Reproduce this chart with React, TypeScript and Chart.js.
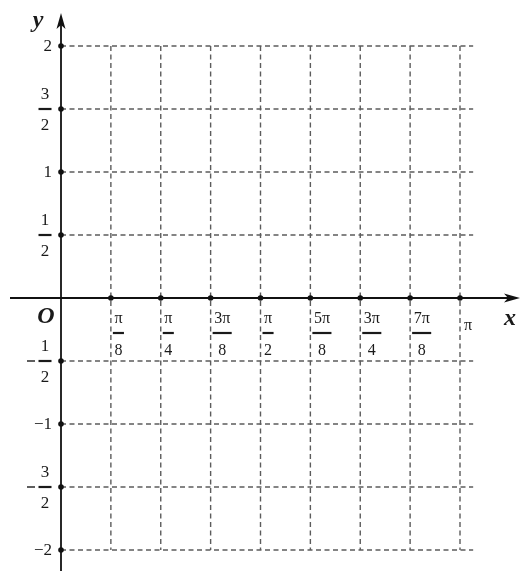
import React, { useEffect, useRef } from "react";
import { Chart, registerables } from "chart.js";

Chart.register(...registerables);

// x ticks in units of π (k/8)
const xTickValues = [0.125, 0.25, 0.375, 0.5, 0.625, 0.75, 0.875, 1];
const xTickNumerators = ["π", "π", "3π", "π", "5π", "3π", "7π", "π"];
const xTickDenominators = ["8", "4", "8", "2", "8", "4", "8", ""];
const yTickValues = [2, 1.5, 1, 0.5, -0.5, -1, -1.5, -2];
const yTickSigns = ["", "", "", "", "−", "−", "−", "−"];
const yTickNumerators = ["2", "3", "1", "1", "1", "1", "3", "2"];
const yTickDenominators = ["", "2", "", "2", "2", "", "2", ""];

const X_MIN = -61 / 399;
const X_MAX = 460 / 399;
const Y_MAX = 298 / 126;
const Y_MIN = -(571 - 298) / 126;
const GRID_X_END = 1.033;

const SERIF = '"Liberation Serif", "DejaVu Serif", serif';

const gridPlugin = {
  id: "mathGrid",
  beforeDatasetsDraw(chart: any) {
    const { ctx, scales } = chart;
    const xs = scales.x;
    const ys = scales.y;
    const px = (v: number) => xs.getPixelForValue(v);
    const py = (v: number) => ys.getPixelForValue(v);
    ctx.save();
    // dashed grid
    ctx.strokeStyle = "#5c5c5c";
    ctx.lineWidth = 1.4;
    ctx.setLineDash([5, 3.5]);
    yTickValues.forEach((v) => {
      ctx.beginPath();
      ctx.moveTo(px(0), py(v));
      ctx.lineTo(px(GRID_X_END), py(v));
      ctx.stroke();
    });
    xTickValues.forEach((v) => {
      ctx.beginPath();
      ctx.moveTo(px(v), py(2));
      ctx.lineTo(px(v), py(-2));
      ctx.stroke();
    });
    ctx.setLineDash([]);
    // axes
    ctx.strokeStyle = "#111";
    ctx.fillStyle = "#111";
    ctx.lineWidth = 1.8;
    const y0 = py(0);
    const x0 = px(0);
    ctx.beginPath();
    ctx.moveTo(10, y0);
    ctx.lineTo(512, y0);
    ctx.stroke();
    ctx.beginPath();
    ctx.moveTo(x0, 571);
    ctx.lineTo(x0, 22);
    ctx.stroke();
    // arrows
    ctx.beginPath();
    ctx.moveTo(520, y0);
    ctx.lineTo(504, y0 - 4.5);
    ctx.lineTo(508, y0);
    ctx.lineTo(504, y0 + 4.5);
    ctx.closePath();
    ctx.fill();
    ctx.beginPath();
    ctx.moveTo(x0, 13);
    ctx.lineTo(x0 - 4.5, 29);
    ctx.lineTo(x0, 25);
    ctx.lineTo(x0 + 4.5, 29);
    ctx.closePath();
    ctx.fill();
    ctx.restore();
  },
  afterDatasetsDraw(chart: any) {
    const { ctx, scales } = chart;
    const xs = scales.x;
    const ys = scales.y;
    const px = (v: number) => xs.getPixelForValue(v);
    const py = (v: number) => ys.getPixelForValue(v);
    ctx.save();
    ctx.fillStyle = "#1a1a1a";
    ctx.strokeStyle = "#1a1a1a";
    ctx.textBaseline = "middle";
    // axis names
    ctx.font = `italic bold 24px ${SERIF}`;
    ctx.textAlign = "center";
    ctx.fillText("y", 38, 21);
    ctx.fillText("x", 510, 319);
    ctx.fillText("O", 46, 317);
    // x tick labels
    ctx.font = `16px ${SERIF}`;
    const y0 = py(0);
    xTickValues.forEach((v, i) => {
      const x = px(v);
      const num = xTickNumerators[i];
      const den = xTickDenominators[i];
      if (!den) {
        ctx.textAlign = "left";
        ctx.fillText(num, x + 4, y0 + 28);
        return;
      }
      const w = Math.max(ctx.measureText(num).width, ctx.measureText(den).width) + 3;
      const cx = x + 2 + w / 2;
      const barY = y0 + 35;
      ctx.textAlign = "center";
      ctx.fillText(num, cx, barY - 14);
      ctx.fillText(den, cx, barY + 18);
      ctx.lineWidth = 2.2;
      ctx.beginPath();
      ctx.moveTo(cx - w / 2, barY);
      ctx.lineTo(cx + w / 2, barY);
      ctx.stroke();
    });
    // y tick labels
    ctx.font = `17px ${SERIF}`;
    yTickValues.forEach((v, i) => {
      const y = py(v);
      const sign = yTickSigns[i];
      const num = yTickNumerators[i];
      const den = yTickDenominators[i];
      if (!den) {
        ctx.textAlign = "right";
        ctx.fillText(sign + num, 52, y + 1);
        return;
      }
      const cx = 45;
      const w = 13;
      ctx.textAlign = "center";
      ctx.fillText(num, cx, y - 14);
      ctx.fillText(den, cx, y + 17);
      ctx.lineWidth = 2.2;
      ctx.beginPath();
      ctx.moveTo(cx - w / 2, y);
      ctx.lineTo(cx + w / 2, y);
      ctx.stroke();
      if (sign) {
        ctx.lineWidth = 1.4;
        ctx.beginPath();
        ctx.moveTo(27, y);
        ctx.lineTo(35, y);
        ctx.stroke();
      }
    });
    ctx.restore();
  },
};

export default function App() {
  const ref = useRef<HTMLCanvasElement>(null);
  useEffect(() => {
    if (!ref.current) return;
    const chart = new Chart(ref.current, {
      type: "scatter",
      data: {
        datasets: [
          {
            data: xTickValues.map((v) => ({ x: v, y: 0 })),
            pointRadius: 2.8,
            backgroundColor: "#111",
            borderWidth: 0,
          },
          {
            data: yTickValues.map((v) => ({ x: 0, y: v })),
            pointRadius: 2.8,
            backgroundColor: "#111",
            borderWidth: 0,
          },
        ],
      },
      options: {
        animation: false,
        responsive: false,
        layout: { padding: 0, autoPadding: false },
        plugins: { legend: { display: false }, tooltip: { enabled: false } },
        scales: {
          x: { type: "linear", display: false, min: X_MIN, max: X_MAX },
          y: { type: "linear", display: false, min: Y_MIN, max: Y_MAX },
        },
      },
      plugins: [gridPlugin],
    });
    return () => chart.destroy();
  }, []);
  return (
    <div style={{ position: "fixed", left: 0, top: 0, width: 521, height: 571, background: "#fff" }}>
      <canvas ref={ref} width={521} height={571} style={{ display: "block" }} />
    </div>
  );
}
